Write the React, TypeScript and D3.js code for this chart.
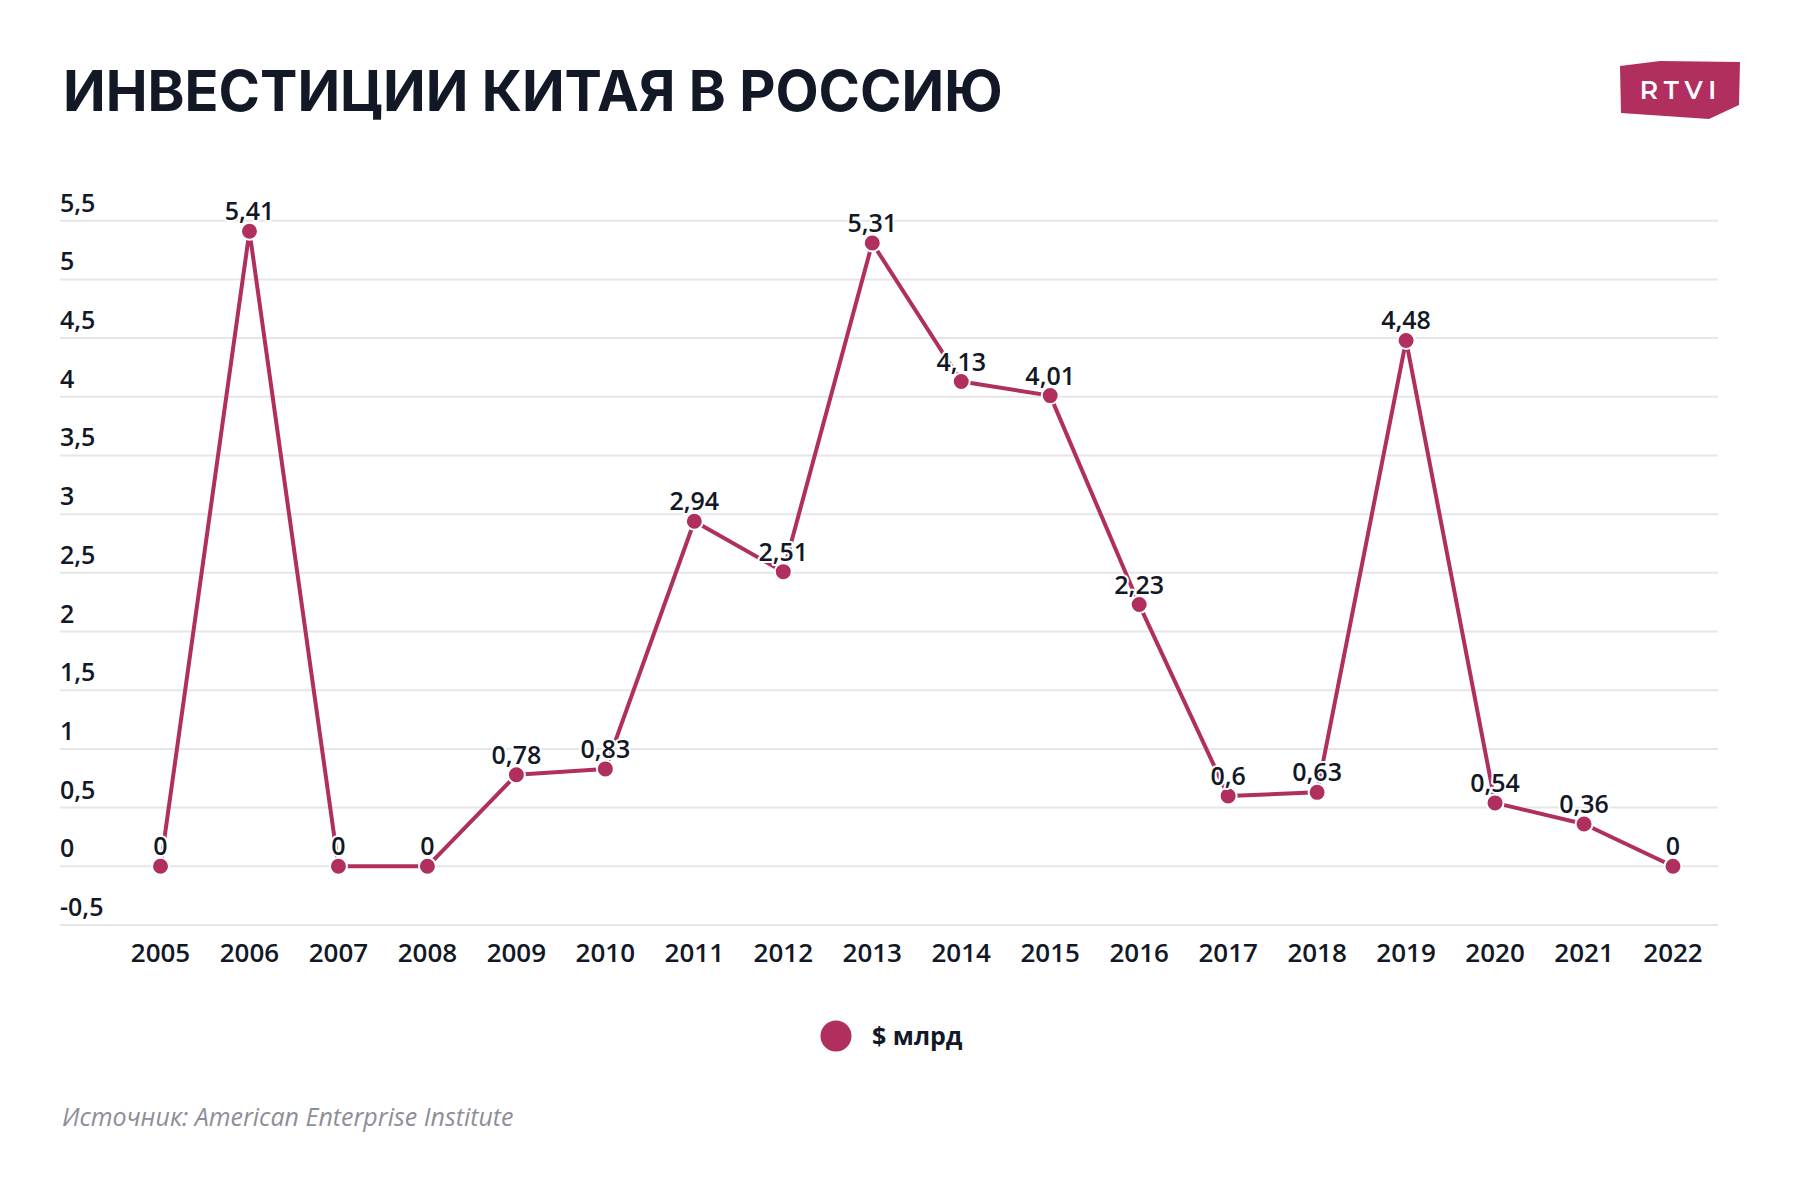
import { useEffect, useRef } from "react";
import * as d3 from "d3";

const years = [
    "2005", "2006", "2007", "2008", "2009", "2010", "2011", "2012", "2013",
    "2014", "2015", "2016", "2017", "2018", "2019", "2020", "2021", "2022",
];
const investment = [
    0, 5.41, 0, 0, 0.78, 0.83, 2.94, 2.51, 5.31, 4.13, 4.01, 2.23, 0.6, 0.63,
    4.48, 0.54, 0.36, 0,
];
const yTicks = [-0.5, 0, 0.5, 1, 1.5, 2, 2.5, 3, 3.5, 4, 4.5, 5, 5.5];

const title = "ИНВЕСТИЦИИ КИТАЯ В РОССИЮ";
const seriesName = "$ млрд";
const source = "Источник: American Enterprise Institute";

const ACCENT = "#b12f5e";
const INK = "#121826";
const fmt = (v: number) => String(v).replace(".", ",");

export default function App() {
    const svgRef = useRef<SVGSVGElement>(null);

    useEffect(() => {
        if (!svgRef.current) return;
        const svg = d3.select(svgRef.current);
        svg.selectAll("*").remove();

        const W = 1800;
        const H = 1200;
        svg.attr("width", W).attr("height", H);

        svg.append("rect").attr("width", W).attr("height", H).attr("fill", "#fff");

        // title
        svg.append("text")
            .attr("x", 63)
            .attr("y", 111)
            .attr("font-family", "Inter, Roboto, sans-serif")
            .attr("font-weight", 700)
            .attr("font-size", 56)
            .attr("fill", INK)
            .text(title);

        // logo
        const logo = svg.append("g");
        logo.append("polygon")
            .attr("points", "1620,66 1660,61 1740,62 1739,105 1709,119 1621,113")
            .attr("fill", ACCENT);
        logo.append("text")
            .attr("x", 1681)
            .attr("y", 99)
            .attr("text-anchor", "middle")
            .attr("font-family", "Montserrat, Inter, sans-serif")
            .attr("font-weight", 600)
            .attr("font-size", 25)
            .attr("letter-spacing", 6)
            .attr("fill", "#fff")
            .text("RTVI");

        const x = d3.scalePoint().domain(years).range([160.5, 1673]);
        const y = d3.scaleLinear().domain([-0.5, 5.5]).range([925, 220.7]);

        const font = "'Open Sans', 'Noto Sans', sans-serif";

        // grid + y labels
        const grid = svg.append("g");
        grid.selectAll("line")
            .data(yTicks)
            .enter()
            .append("line")
            .attr("x1", 60)
            .attr("x2", 1718)
            .attr("y1", (d) => y(d))
            .attr("y2", (d) => y(d))
            .attr("stroke", "#e6e6e6")
            .attr("stroke-width", 2);
        grid.selectAll("text")
            .data(yTicks)
            .enter()
            .append("text")
            .attr("x", 60)
            .attr("y", (d) => y(d) - 9)
            .attr("font-family", font)
            .attr("font-weight", 600)
            .attr("font-size", 25)
            .attr("fill", INK)
            .text((d) => fmt(d));

        // x labels
        svg.append("g")
            .selectAll("text")
            .data(years)
            .enter()
            .append("text")
            .attr("x", (d) => x(d)!)
            .attr("y", 962)
            .attr("text-anchor", "middle")
            .attr("font-family", font)
            .attr("font-weight", 600)
            .attr("font-size", 26)
            .attr("fill", INK)
            .text((d) => d);

        const pts = years.map((yr, i) => ({ yr, v: investment[i] }));

        const line = d3
            .line<{ yr: string; v: number }>()
            .x((d) => x(d.yr)!)
            .y((d) => y(d.v));

        svg.append("path")
            .datum(pts)
            .attr("d", line)
            .attr("fill", "none")
            .attr("stroke", ACCENT)
            .attr("stroke-width", 4)
            .attr("stroke-linejoin", "round");

        svg.append("g")
            .selectAll("circle")
            .data(pts)
            .enter()
            .append("circle")
            .attr("cx", (d) => x(d.yr)!)
            .attr("cy", (d) => y(d.v))
            .attr("r", 8.5)
            .attr("fill", ACCENT)
            .attr("stroke", "#fff")
            .attr("stroke-width", 2);

        svg.append("g")
            .selectAll("text")
            .data(pts)
            .enter()
            .append("text")
            .attr("x", (d) => x(d.yr)!)
            .attr("y", (d) => y(d.v) - 11)
            .attr("text-anchor", "middle")
            .attr("font-family", font)
            .attr("font-weight", 600)
            .attr("font-size", 25)
            .attr("fill", INK)
            .attr("stroke", "#fff")
            .attr("stroke-width", 4)
            .attr("stroke-linejoin", "round")
            .attr("paint-order", "stroke")
            .text((d) => fmt(d.v));

        // legend
        svg.append("circle")
            .attr("cx", 836)
            .attr("cy", 1036)
            .attr("r", 15.5)
            .attr("fill", ACCENT);
        svg.append("text")
            .attr("x", 872)
            .attr("y", 1045)
            .attr("font-family", font)
            .attr("font-weight", 700)
            .attr("font-size", 25)
            .attr("fill", INK)
            .text(seriesName);

        // source
        svg.append("text")
            .attr("x", 62)
            .attr("y", 1126)
            .attr("font-family", font)
            .attr("font-style", "italic")
            .attr("font-size", 25)
            .attr("fill", "#8e8e99")
            .text(source);
    }, []);

    return (
        <div style={{ position: "absolute", left: 0, top: 0 }}>
            <svg ref={svgRef} style={{ display: "block" }}></svg>
        </div>
    );
}
